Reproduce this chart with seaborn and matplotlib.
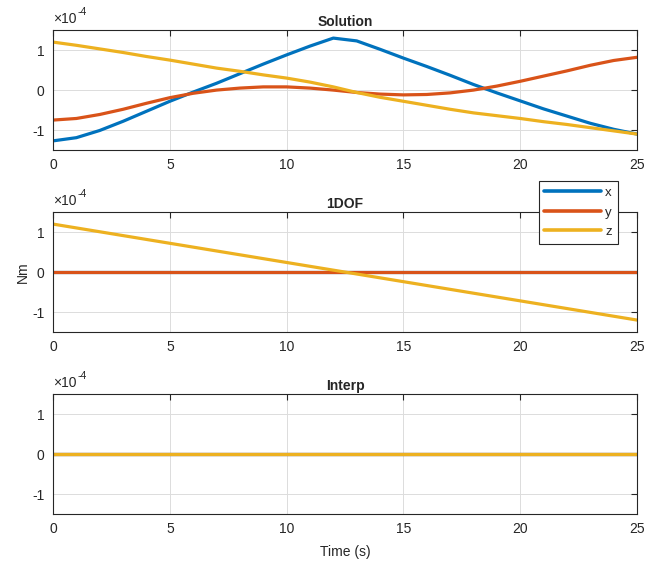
import numpy as np
import pandas as pd
import matplotlib
matplotlib.use("Agg")
import matplotlib.pyplot as plt
import seaborn as sns
from matplotlib.ticker import FuncFormatter

# --- data (values in units of 1e-4 Nm) ---
scale = 1e-4

t_sol = [0, 1, 2, 3, 4, 5, 6, 7, 8, 9, 10, 11, 12, 13, 14, 15, 16, 17, 18, 19, 20, 21, 22, 23, 24, 25]
sol_x = [-1.27, -1.19, -1.01, -0.78, -0.53, -0.28, -0.05, 0.17, 0.41, 0.65, 0.88, 1.1, 1.3,
         1.23, 1.02, 0.8, 0.59, 0.37, 0.14, -0.07, -0.27, -0.47, -0.65, -0.83, -0.98, -1.1]
sol_y = [-0.75, -0.71, -0.61, -0.48, -0.33, -0.19, -0.08, 0.0, 0.05, 0.08, 0.08, 0.05, 0.0,
         -0.06, -0.1, -0.12, -0.11, -0.07, 0.0, 0.1, 0.22, 0.35, 0.48, 0.62, 0.74, 0.82]
sol_z = [1.2, 1.12, 1.03, 0.94, 0.84, 0.75, 0.65, 0.55, 0.47, 0.38, 0.3, 0.2, 0.08,
         -0.06, -0.18, -0.28, -0.38, -0.48, -0.57, -0.64, -0.71, -0.79, -0.86, -0.94, -1.02, -1.1]

t_dof = [0, 12.5, 25]
dof_x = [0.0, 0.0, 0.0]
dof_y = [0.0, 0.0, 0.0]
dof_z = [1.2, 0.0, -1.2]

t_interp = [0, 25]
interp_x = [0.0, 0.0]
interp_y = [0.0, 0.0]
interp_z = [0.0, 0.0]

titles = ['Solution', '1DOF', 'Interp']
components = ['x', 'y', 'z']
colors = {'x': '#0072BD', 'y': '#D95319', 'z': '#EDB120'}


def make_df(t, x, y, z):
    df = pd.DataFrame({'Time': t, 'x': x, 'y': y, 'z': z})
    df = df.melt(id_vars='Time', var_name='comp', value_name='val')
    df['val'] = df['val'] * scale
    return df


frames = [make_df(t_sol, sol_x, sol_y, sol_z),
          make_df(t_dof, dof_x, dof_y, dof_z),
          make_df(t_interp, interp_x, interp_y, interp_z)]

sns.set_theme(style="white")
plt.rcParams['font.family'] = ['Liberation Sans', 'DejaVu Sans']
plt.rcParams['axes.unicode_minus'] = False

fig, axes = plt.subplots(3, 1, figsize=(6.49, 5.68), dpi=100)
fig.subplots_adjust(left=0.0817, right=0.9815, top=0.947, bottom=0.095, hspace=0.517)

tick_fmt = FuncFormatter(lambda v, pos: f"{v / scale:g}")

for i, ax in enumerate(axes):
    sns.lineplot(data=frames[i], x='Time', y='val', hue='comp', hue_order=components,
                 palette=colors, linewidth=2.3, ax=ax, legend=(i == 1))
    ax.set_xlim(0, 25)
    ax.set_ylim(-1.5e-4, 1.5e-4)
    ax.set_xticks([0, 5, 10, 15, 20, 25])
    ax.set_yticks([-1e-4, 0, 1e-4])
    ax.yaxis.set_major_formatter(tick_fmt)
    ax.grid(True, color='#dcdcdc', linewidth=0.7)
    ax.tick_params(direction='in', length=4, width=0.8, top=True, right=True,
                   labelsize=10, colors='#262626', pad=6)
    for s in ax.spines.values():
        s.set_color('#262626')
        s.set_linewidth(0.8)
    ax.set_title(titles[i], fontsize=10, fontweight='bold', pad=3)
    ax.set_xlabel('')
    ax.set_ylabel('')
    # MATLAB style exponent label above the axes
    ax.text(0.0, 1.035, '\u00d710', transform=ax.transAxes, fontsize=10,
            color='#262626', ha='left', va='bottom')
    ax.text(0.042, 1.11, '-4', transform=ax.transAxes, fontsize=7.5,
            color='#262626', ha='left', va='bottom')

axes[1].set_ylabel('Nm', fontsize=10, labelpad=2)
axes[2].set_xlabel('Time (s)', fontsize=10, labelpad=6)

leg = axes[1].legend(loc='upper right', bbox_to_anchor=(0.967, 1.26), fontsize=9.5,
                     frameon=True, fancybox=False, edgecolor='#262626', framealpha=1,
                     handlelength=4.3, handletextpad=0.3, labelspacing=0.55,
                     borderpad=0.45, borderaxespad=0)
leg.get_frame().set_linewidth(0.8)
leg.set_zorder(10)
for line in leg.get_lines():
    line.set_linewidth(2.6)

fig.savefig('out.png', dpi=100)
